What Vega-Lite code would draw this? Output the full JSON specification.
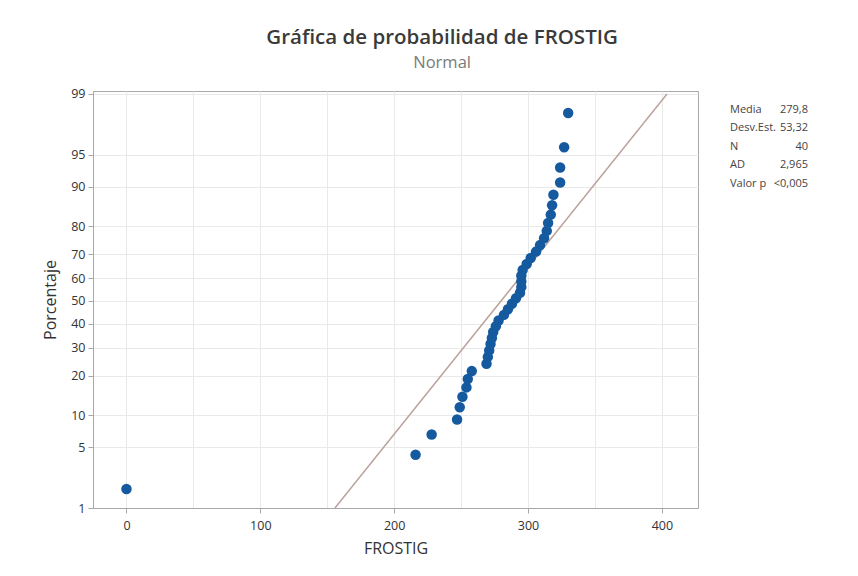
{
  "$schema": "https://vega.github.io/schema/vega-lite/v6.json",
  "background": "white",
  "padding": {"left": 42, "top": 28, "right": 5, "bottom": 5},
  "title": {
    "text": "Gráfica de probabilidad de FROSTIG",
    "subtitle": "Normal",
    "anchor": "middle",
    "dx": 17,
    "font": "Open Sans",
    "fontSize": 20.5,
    "fontWeight": 600,
    "color": "#3a3a3a",
    "subtitleFont": "Open Sans",
    "subtitleFontSize": 16.5,
    "subtitleColor": "#7a7a7a",
    "subtitlePadding": 6,
    "offset": 16
  },
  "config": {
    "font": "Open Sans",
    "view": {"stroke": "#a8a8a8", "strokeWidth": 1},
    "axis": {
      "labelFont": "Open Sans",
      "labelFontSize": 12.5,
      "labelColor": "#333333",
      "labelOverlap": false,
      "titleFont": "Open Sans",
      "titleFontSize": 16,
      "titleFontWeight": "normal",
      "titleColor": "#333333",
      "tickColor": "#a8a8a8",
      "tickSize": 5,
      "domainColor": "#a8a8a8",
      "gridColor": "#e9e9e9",
      "gridWidth": 1
    }
  },
  "spacing": 31,
  "hconcat": [
    {
      "width": 605,
      "height": 417,
      "layer": [
        {
          "data": {"values": [
            {"x": 155.76, "z": -2.3263},
            {"x": 403.84, "z": 2.3263}
          ]},
          "mark": {"type": "line", "color": "#b9a39c", "strokeWidth": 1.5, "clip": true},
          "encoding": {
            "x": {"field": "x", "type": "quantitative"},
            "y": {"field": "z", "type": "quantitative"}
          }
        },
        {
          "data": {"values": [
            {"x": 0, "pct": 1.73, "z": -2.113},
            {"x": 216, "pct": 4.21, "z": -1.727},
            {"x": 228, "pct": 6.68, "z": -1.5},
            {"x": 247, "pct": 9.16, "z": -1.331},
            {"x": 249, "pct": 11.63, "z": -1.194},
            {"x": 251, "pct": 14.11, "z": -1.076},
            {"x": 254, "pct": 16.58, "z": -0.971},
            {"x": 255, "pct": 19.06, "z": -0.876},
            {"x": 258, "pct": 21.53, "z": -0.788},
            {"x": 269, "pct": 24.01, "z": -0.706},
            {"x": 270, "pct": 26.49, "z": -0.628},
            {"x": 271, "pct": 28.96, "z": -0.555},
            {"x": 272, "pct": 31.44, "z": -0.484},
            {"x": 273, "pct": 33.91, "z": -0.415},
            {"x": 274, "pct": 36.39, "z": -0.348},
            {"x": 276, "pct": 38.86, "z": -0.283},
            {"x": 278, "pct": 41.34, "z": -0.219},
            {"x": 282, "pct": 43.81, "z": -0.156},
            {"x": 285, "pct": 46.29, "z": -0.093},
            {"x": 288, "pct": 48.76, "z": -0.031},
            {"x": 291, "pct": 51.24, "z": 0.031},
            {"x": 294, "pct": 53.71, "z": 0.093},
            {"x": 295, "pct": 56.19, "z": 0.156},
            {"x": 295, "pct": 58.66, "z": 0.219},
            {"x": 295, "pct": 61.14, "z": 0.283},
            {"x": 296, "pct": 63.61, "z": 0.348},
            {"x": 299, "pct": 66.09, "z": 0.415},
            {"x": 302, "pct": 68.56, "z": 0.484},
            {"x": 306, "pct": 71.04, "z": 0.555},
            {"x": 309, "pct": 73.51, "z": 0.628},
            {"x": 312, "pct": 75.99, "z": 0.706},
            {"x": 314, "pct": 78.47, "z": 0.788},
            {"x": 315, "pct": 80.94, "z": 0.876},
            {"x": 317, "pct": 83.42, "z": 0.971},
            {"x": 318, "pct": 85.89, "z": 1.076},
            {"x": 319, "pct": 88.37, "z": 1.194},
            {"x": 324, "pct": 90.84, "z": 1.331},
            {"x": 324, "pct": 93.32, "z": 1.5},
            {"x": 327, "pct": 95.79, "z": 1.727},
            {"x": 330, "pct": 98.27, "z": 2.113}
          ]},
          "mark": {"type": "circle", "size": 110, "color": "#155a9f", "opacity": 1},
          "encoding": {
            "x": {
              "field": "x", "type": "quantitative", "title": "FROSTIG",
              "scale": {"domain": [-25, 427], "nice": false, "zero": false},
              "axis": {
                "values": [0, 50, 100, 150, 200, 250, 300, 350, 400],
                "tickCount": 20,
                "labelExpr": "datum.value % 100 === 0 ? datum.label : ''",
                "tickOpacity": {"condition": {"test": "datum.value % 100 !== 0", "value": 0}, "value": 1},
                "grid": true,
                "labelPadding": 6,
                "titlePadding": 9
              }
            },
            "y": {
              "field": "z", "type": "quantitative", "title": "Porcentaje",
              "scale": {"domain": [-2.3263, 2.36], "nice": false, "zero": false},
              "axis": {
                "values": [-2.3263, -1.6449, -1.2816, -0.8416, -0.5244, -0.2533, 0, 0.2533, 0.5244, 0.8416, 1.2816, 1.6449, 2.3263],
                "tickCount": 20,
                "labelExpr": "format(cumulativeNormal(datum.value, 0, 1) * 100, '.0f')",
                "grid": true,
                "labelPadding": 3,
                "titlePadding": 12
              }
            }
          }
        }
      ]
    },
    {
      "width": 78,
      "height": 417,
      "view": {"stroke": null},
      "data": {"values": [
        {"row": 1, "stat": "Media", "value": "279,8"},
        {"row": 2, "stat": "Desv.Est.", "value": "53,32"},
        {"row": 3, "stat": "N", "value": "40"},
        {"row": 4, "stat": "AD", "value": "2,965"},
        {"row": 5, "stat": "Valor p", "value": "<0,005"}
      ]},
      "layer": [
        {
          "mark": {"type": "text", "align": "left", "baseline": "middle", "fontSize": 11, "color": "#444444", "font": "Open Sans"},
          "encoding": {
            "x": {"datum": 0, "type": "quantitative", "scale": {"domain": [0, 1]}, "axis": null},
            "y": {"field": "row", "type": "quantitative", "scale": {"domain": [0, 22.54], "reverse": true}, "axis": null},
            "text": {"field": "stat"}
          }
        },
        {
          "mark": {"type": "text", "align": "right", "baseline": "middle", "fontSize": 11, "color": "#444444", "font": "Open Sans"},
          "encoding": {
            "x": {"datum": 1, "type": "quantitative", "scale": {"domain": [0, 1]}, "axis": null},
            "y": {"field": "row", "type": "quantitative", "scale": {"domain": [0, 22.54], "reverse": true}, "axis": null},
            "text": {"field": "value"}
          }
        }
      ]
    }
  ]
}
